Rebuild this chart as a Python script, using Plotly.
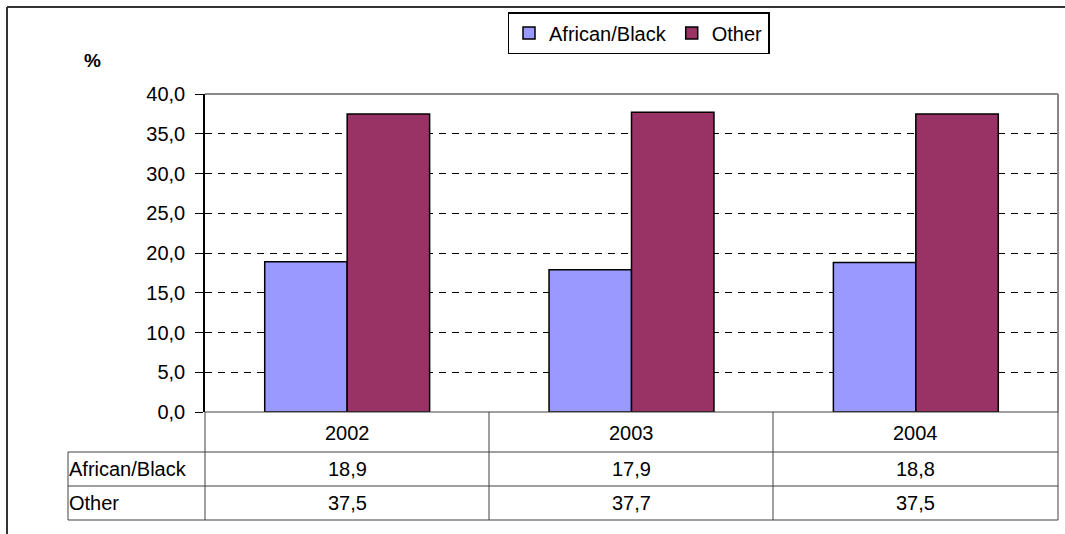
import plotly.graph_objects as go

years = ["2002", "2003", "2004"]
african_black = [18.9, 17.9, 18.8]
other = [37.5, 37.7, 37.5]
series_names = ["African/Black", "Other"]
colors = ["#9999FF", "#993366"]
y_ticks = [0, 5, 10, 15, 20, 25, 30, 35, 40]

W, H = 1065, 534
L, R, T, B = 205, 1058, 94, 412

def px(x):
    return (x - L) / (R - L)

def py(y):
    return (B - y) / (B - T)

FONT = "Liberation Sans, Arial, sans-serif"
fs = 20

fig = go.Figure()
for name, vals, c in zip(series_names, [african_black, other], colors):
    fig.add_trace(go.Bar(x=years, y=vals, name=name, marker=dict(color=c, line=dict(color="black", width=1.5))))

shapes = []
# outer chart border
shapes.append(dict(type="line", xref="paper", yref="paper", x0=px(7), x1=px(W + 5), y0=py(7), y1=py(7), line=dict(color="#333333", width=2)))
shapes.append(dict(type="line", xref="paper", yref="paper", x0=px(7), x1=px(7), y0=py(7), y1=py(H + 5), line=dict(color="#333333", width=2)))
# plot top/right border gray
shapes.append(dict(type="line", xref="paper", yref="paper", x0=0, x1=1, y0=1, y1=1, line=dict(color="#888888", width=2)))
shapes.append(dict(type="line", xref="paper", yref="paper", x0=1, x1=1, y0=0, y1=1, line=dict(color="#888888", width=2)))

# data table lines
row_y = [412, 452, 486, 520]
col_x = [205, 489, 773, 1058]
lc = "#404040"
for i, y in enumerate(row_y):
    x0 = 205 if i == 0 else 68
    shapes.append(dict(type="line", xref="paper", yref="paper", x0=px(x0), x1=px(1058), y0=py(y), y1=py(y), line=dict(color=lc, width=1)))
for x in col_x:
    shapes.append(dict(type="line", xref="paper", yref="paper", x0=px(x), x1=px(x), y0=py(412), y1=py(520), line=dict(color=lc, width=1)))
shapes.append(dict(type="line", xref="paper", yref="paper", x0=px(68), x1=px(68), y0=py(452), y1=py(520), line=dict(color=lc, width=1)))

annotations = []
centers = [(col_x[i] + col_x[i + 1]) / 2 for i in range(3)]

def ann(x, y, text, xanchor="center", size=fs):
    return dict(x=px(x), y=py(y), xref="paper", yref="paper", text=text, showarrow=False,
                xanchor=xanchor, yanchor="middle", font=dict(size=size, color="black", family=FONT))

for i, yr in enumerate(years):
    annotations.append(ann(centers[i], 433, yr))
    annotations.append(ann(centers[i], 469, f"{african_black[i]:.1f}".replace(".", ",")))
    annotations.append(ann(centers[i], 503, f"{other[i]:.1f}".replace(".", ",")))
for name, yc in zip(series_names, [469, 503]):
    annotations.append(ann(67, yc, name, xanchor="left"))
annotations.append(ann(92, 60, "<b>%</b>", size=19))

fig.update_layout(
    width=W, height=H,
    margin=dict(l=L, r=W - R, t=T, b=H - B, pad=0),
    paper_bgcolor="white", plot_bgcolor="white",
    barmode="group", bargap=0.42, bargroupgap=0,
    separators=",.",
    font=dict(family=FONT, size=fs, color="black"),
    showlegend=True,
    legend=dict(orientation="h", x=px(638.5), y=py(12), xanchor="center", yanchor="top",
                bordercolor="black", borderwidth=1.5, bgcolor="white",
                font=dict(size=20, family=FONT), itemwidth=30, tracegroupgap=0),
    xaxis=dict(showticklabels=False, ticks="", showline=False, showgrid=False, zeroline=False),
    yaxis=dict(range=[0, 40], tickvals=y_ticks, tickformat=".1f", ticks="outside", ticklen=8, tickcolor="black",
               showline=True, linecolor="black", linewidth=1.5, showgrid=True, gridcolor="black", gridwidth=1,
               griddash="7px,6px", zeroline=False, tickfont=dict(size=fs, family=FONT), ticklabelstandoff=6),
    shapes=shapes, annotations=annotations,
)
fig.write_html("out.html", config={"displayModeBar": False},
               post_script="document.body.style.margin='0';document.body.style.overflow='hidden';")
